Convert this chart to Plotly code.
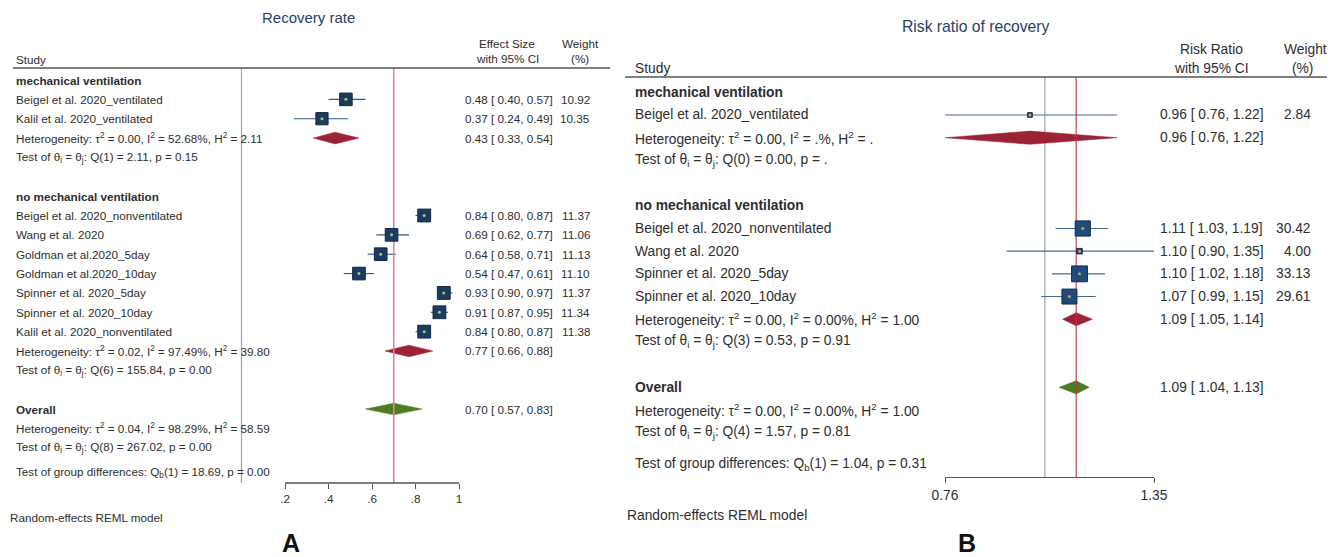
import math
import plotly.graph_objects as go

W, H = 1330, 557
FONT = "Liberation Sans, Arial, Helvetica, sans-serif"
TXT = "#2e2e2e"

# ---------------- Panel A: recovery rate ----------------
A_group_names = ["mechanical ventilation", "no mechanical ventilation"]
A_study = [
    "Beigel et al. 2020_ventilated", "Kalil et al. 2020_ventilated",
    "Beigel et al. 2020_nonventilated", "Wang et al. 2020", "Goldman et al.2020_5day",
    "Goldman et al.2020_10day", "Spinner et al. 2020_5day", "Spinner et al. 2020_10day",
    "Kalil et al. 2020_nonventilated",
]
A_group = [0, 0, 1, 1, 1, 1, 1, 1, 1]
A_es = [0.48, 0.37, 0.84, 0.69, 0.64, 0.54, 0.93, 0.91, 0.84]
A_lo = [0.40, 0.24, 0.80, 0.62, 0.58, 0.47, 0.90, 0.87, 0.80]
A_hi = [0.57, 0.49, 0.87, 0.77, 0.71, 0.61, 0.97, 0.95, 0.87]
A_wt = [10.92, 10.35, 11.37, 11.06, 11.13, 11.10, 11.37, 11.34, 11.38]

A_sub_es = [0.43, 0.77]
A_sub_lo = [0.33, 0.66]
A_sub_hi = [0.54, 0.88]
A_sub_tau2 = [0.00, 0.02]
A_sub_i2 = [52.68, 97.49]
A_sub_h2 = [2.11, 39.80]
A_sub_df = [1, 6]
A_sub_q = [2.11, 155.84]
A_sub_p = [0.15, 0.00]

A_all = [0.70, 0.57, 0.83]          # estimate, lower, upper
A_all_het = [0.04, 98.29, 58.59]    # tau2, I2, H2
A_all_q = [8, 267.02, 0.00]         # df, Q, p
A_qb = [1, 18.69, 0.00]             # df, Qb, p
A_tickvals = [0.2, 0.4, 0.6, 0.8, 1.0]
A_ticktext = [".2", ".4", ".6", ".8", "1"]
A_null = 0.0

# ---------------- Panel B: risk ratio of recovery ----------------
B_group_names = ["mechanical ventilation", "no mechanical ventilation"]
B_study = [
    "Beigel et al. 2020_ventilated", "Beigel et al. 2020_nonventilated",
    "Wang et al. 2020", "Spinner et al. 2020_5day", "Spinner et al. 2020_10day",
]
B_group = [0, 1, 1, 1, 1]
B_es = [0.96, 1.11, 1.10, 1.10, 1.07]
B_lo = [0.76, 1.03, 0.90, 1.02, 0.99]
B_hi = [1.22, 1.19, 1.35, 1.18, 1.15]
B_wt = [2.84, 30.42, 4.00, 33.13, 29.61]

B_sub_es = [0.96, 1.09]
B_sub_lo = [0.76, 1.05]
B_sub_hi = [1.22, 1.14]
B_sub_tau2 = [0.00, 0.00]
B_sub_i2 = [None, 0.00]
B_sub_h2 = [None, 1.00]
B_sub_df = [0, 3]
B_sub_q = [0.00, 0.53]
B_sub_p = [None, 0.91]

B_all = [1.09, 1.04, 1.13]
B_all_het = [0.00, 0.00, 1.00]
B_all_q = [4, 1.57, 0.81]
B_qb = [1, 1.04, 0.31]
B_tickvals = [0.76, 1.35]
B_ticktext = ["0.76", "1.35"]
B_null = 1.0


def fmt(v, suffix=""):
    return "." + suffix if v is None else f"{v:.2f}{suffix}"


def het_text(tau2, i2, h2):
    return (f"Heterogeneity: τ<sup>2</sup> = {fmt(tau2)}, I<sup>2</sup> = {fmt(i2, '%')}, "
            f"H<sup>2</sup> = {fmt(h2)}")


def test_text(df, q, p):
    return f"Test of θ<sub>i</sub> = θ<sub>j</sub>: Q({df}) = {q:.2f}, p = {fmt(p)}"


def ci_text(es, lo, hi):
    return f"{es:.2f} [ {lo:.2f}, {hi:.2f}]"


def layout_rows(groups, n_groups, diff_gap):
    """Assign a row index to every line of the forest table."""
    rows = {"header": [], "study": [], "het": [], "test": []}
    r = 0
    for g in range(n_groups):
        rows["header"].append(r)
        r += 1
        for i in [i for i, gi in enumerate(groups) if gi == g]:
            rows["study"].append((i, r))
            r += 1
        rows["het"].append(r)
        r += 1
        rows["test"].append(r)
        r += 2
    rows["overall"] = r
    rows["overall_het"] = r + 1
    rows["overall_test"] = r + 2
    rows["diff"] = r + 3 + diff_gap
    return rows


fig = go.Figure()
annotations = []
shapes = []


def add_text(text, px, row, yref, anchor="left", size=11.7, color=TXT):
    annotations.append(dict(
        text=text, x=px / W, xref="paper", y=row, yref=yref, xanchor=anchor,
        yanchor="middle", showarrow=False, font=dict(family=FONT, size=size, color=color),
    ))


def add_paper_text(text, px, py, anchor="center", size=11.7, color=TXT):
    annotations.append(dict(
        text=text, x=px / W, xref="paper", y=1 - py / H, yref="paper", xanchor=anchor,
        yanchor="middle", showarrow=False, font=dict(family=FONT, size=size, color=color),
    ))


def diamond(xs, ys, es, lo, hi, row, half):
    xs += [lo, es, hi, es, lo, None]
    ys += [row, row - half, row, row + half, row, None]


def draw_panel(cfg):
    xa, ya = cfg["xaxis"], cfg["yaxis"]
    yref = ya
    fs = cfg["font"]
    rows = layout_rows(cfg["group"], len(cfg["group_names"]), cfg["diff_gap"])
    y_top, y_bot = cfg["yrange"][1], cfg["yrange"][0]

    # no-effect reference line
    fig.add_trace(go.Scatter(x=[cfg["null"], cfg["null"]], y=[y_top, y_bot], mode="lines",
                             line=dict(color="#a9a9a9", width=1.3), xaxis=xa, yaxis=ya,
                             hoverinfo="skip"))

    # confidence intervals of the individual studies
    cx, cy = [], []
    for i, r in rows["study"]:
        cx += [cfg["lo"][i], cfg["hi"][i], None]
        cy += [r, r, None]
    fig.add_trace(go.Scatter(x=cx, y=cy, mode="lines", line=dict(color=cfg["ci_color"], width=1.1),
                             xaxis=xa, yaxis=ya, hoverinfo="skip"))

    # subgroup diamonds
    dx, dy = [], []
    for g, r in enumerate(rows["het"]):
        diamond(dx, dy, cfg["sub_es"][g], cfg["sub_lo"][g], cfg["sub_hi"][g], r, cfg["half"])
    fig.add_trace(go.Scatter(x=dx, y=dy, mode="lines", fill="toself", fillcolor="#9c2235",
                             line=dict(color="#9c2235", width=0.5), xaxis=xa, yaxis=ya,
                             hoverinfo="skip"))
    # overall diamond
    ox, oy = [], []
    diamond(ox, oy, cfg["all"][0], cfg["all"][1], cfg["all"][2], rows["overall"], cfg["half"])
    fig.add_trace(go.Scatter(x=ox, y=oy, mode="lines", fill="toself", fillcolor="#4e7c22",
                             line=dict(color="#4e7c22", width=0.5), xaxis=xa, yaxis=ya,
                             hoverinfo="skip"))

    # line through the overall estimate
    fig.add_trace(go.Scatter(x=[cfg["all"][0], cfg["all"][0]], y=[y_top, y_bot], mode="lines",
                             line=dict(color=cfg["ref_color"], width=cfg["ref_width"]),
                             xaxis=xa, yaxis=ya, hoverinfo="skip"))

    # weighted study squares with centre point
    sx = [cfg["es"][i] for i, _ in rows["study"]]
    sy = [r for _, r in rows["study"]]
    ss = [cfg["k"] * math.sqrt(cfg["wt"][i]) for i, _ in rows["study"]]
    fig.add_trace(go.Scatter(x=sx, y=sy, mode="markers",
                             marker=dict(symbol="square", size=ss, color=cfg["sq_color"], opacity=1,
                                         line=dict(color="#10294a", width=1)),
                             xaxis=xa, yaxis=ya, cliponaxis=False, hoverinfo="skip"))
    fig.add_trace(go.Scatter(x=sx, y=sy, mode="markers",
                             marker=dict(symbol="circle", size=3, color=cfg["dot_color"], opacity=1),
                             xaxis=xa, yaxis=ya, cliponaxis=False, hoverinfo="skip"))

    # table text
    c_study, c_ci, c_wt = cfg["cols"]
    for g, r in enumerate(rows["header"]):
        add_text(f"<b>{cfg['group_names'][g]}</b>", c_study, r, yref, size=fs)
    for i, r in rows["study"]:
        add_text(cfg["study"][i], c_study, r, yref, size=fs)
        add_text(ci_text(cfg["es"][i], cfg["lo"][i], cfg["hi"][i]), c_ci, r, yref, size=fs)
        add_text(f"{cfg['wt'][i]:.2f}", c_wt, r, yref, anchor="right", size=fs)
    for g, r in enumerate(rows["het"]):
        add_text(het_text(cfg["sub_tau2"][g], cfg["sub_i2"][g], cfg["sub_h2"][g]),
                 c_study, r, yref, size=fs)
        add_text(ci_text(cfg["sub_es"][g], cfg["sub_lo"][g], cfg["sub_hi"][g]), c_ci, r, yref, size=fs)
    for g, r in enumerate(rows["test"]):
        add_text(test_text(cfg["sub_df"][g], cfg["sub_q"][g], cfg["sub_p"][g]),
                 c_study, r, yref, size=fs)
    add_text("<b>Overall</b>", c_study, rows["overall"], yref, size=fs)
    add_text(ci_text(*cfg["all"]), c_ci, rows["overall"], yref, size=fs)
    add_text(het_text(*cfg["all_het"]), c_study, rows["overall_het"], yref, size=fs)
    add_text(test_text(*cfg["all_q"]), c_study, rows["overall_test"], yref, size=fs)
    qb = cfg["qb"]
    add_text(f"Test of group differences: Q<sub>b</sub>({qb[0]}) = {qb[1]:.2f}, p = {qb[2]:.2f}",
             c_study, rows["diff"], yref, size=fs)


def domain_px(px0, px1, size):
    return [px0 / size, px1 / size]


# ---- Panel A ----
A_yrange = [20.82, -0.62]
draw_panel(dict(
    xaxis="x", yaxis="y", font=11.7, group=A_group, group_names=A_group_names,
    study=A_study, es=A_es, lo=A_lo, hi=A_hi, wt=A_wt,
    sub_es=A_sub_es, sub_lo=A_sub_lo, sub_hi=A_sub_hi, sub_tau2=A_sub_tau2,
    sub_i2=A_sub_i2, sub_h2=A_sub_h2, sub_df=A_sub_df, sub_q=A_sub_q, sub_p=A_sub_p,
    all=A_all, all_het=A_all_het, all_q=A_all_q, qb=A_qb, null=A_null,
    diff_gap=0.26, yrange=A_yrange, half=0.30, k=3.8,
    ci_color="#34587f", sq_color="#1a3c62", dot_color="#b9c35e",
    ref_color="#db8a9c", ref_width=1.6, cols=(14, 463, 592),
))

# ---- Panel B ----
B_yrange = [16.95, -0.674]
draw_panel(dict(
    xaxis="x2", yaxis="y2", font=13.8, group=B_group, group_names=B_group_names,
    study=B_study, es=B_es, lo=B_lo, hi=B_hi, wt=B_wt,
    sub_es=B_sub_es, sub_lo=B_sub_lo, sub_hi=B_sub_hi, sub_tau2=B_sub_tau2,
    sub_i2=B_sub_i2, sub_h2=B_sub_h2, sub_df=B_sub_df, sub_q=B_sub_q, sub_p=B_sub_p,
    all=B_all, all_het=B_all_het, all_q=B_all_q, qb=B_qb, null=B_null,
    diff_gap=0.42, yrange=B_yrange, half=0.29, k=2.75,
    ci_color="#4a6a8e", sq_color="#1e4c7c", dot_color="#d39a5e",
    ref_color="#b9333d", ref_width=1.1, cols=(633, 1158, 1313),
))

# titles, column headers and footers
add_paper_text("Recovery rate", 308, 18, size=15, color="#243f6b")
add_paper_text("Study", 14, 60, anchor="left")
add_paper_text("Effect Size", 507, 44)
add_paper_text("with 95% CI", 507, 59)
add_paper_text("Weight", 580, 44)
add_paper_text("(%)", 580, 59)
add_paper_text("Random-effects REML model", 8, 517, anchor="left")
add_paper_text("<b>A</b>", 291, 543, size=25, color="#111111")

add_paper_text("Risk ratio of recovery", 975, 26, size=15.7, color="#243f6b")
add_paper_text("Study", 633, 68, anchor="left", size=13.8)
add_paper_text("Risk Ratio", 1211, 49, size=13.8)
add_paper_text("with 95% CI", 1211, 68, size=13.8)
add_paper_text("Weight", 1305, 49, size=13.8)
add_paper_text("(%)", 1302, 68, size=13.8)
add_paper_text("Random-effects REML model", 625, 515, anchor="left", size=13.8)
add_paper_text("<b>B</b>", 967, 543, size=25, color="#111111")

# header rules
shapes.append(dict(type="line", xref="paper", yref="paper", x0=13 / W, x1=610 / W,
                   y0=1 - 68 / H, y1=1 - 68 / H, line=dict(color="#555555", width=1.5)))
shapes.append(dict(type="line", xref="paper", yref="paper", x0=625 / W, x1=1327 / W,
                   y0=1 - 77 / H, y1=1 - 77 / H, line=dict(color="#555555", width=1.5)))
# panel A axis baseline spanning the labelled ticks
shapes.append(dict(type="line", xref="x", yref="y domain", x0=A_tickvals[0], x1=A_tickvals[-1],
                   y0=0, y1=0, line=dict(color="#555555", width=1.3)))

# panel A x-scale: .2 at 285px, 1 at 459px, extended to show the null line
A_px_per_unit = (459 - 285) / (A_tickvals[-1] - A_tickvals[0])
A_xrange = [-0.03, 1.05]
A_dom = [285 + (A_xrange[0] - A_tickvals[0]) * A_px_per_unit,
         459 + (A_xrange[1] - A_tickvals[-1]) * A_px_per_unit]

fig.update_layout(
    width=W, height=H, autosize=False,
    margin=dict(l=0, r=0, t=0, b=0, pad=0, autoexpand=False),
    paper_bgcolor="white", plot_bgcolor="white", showlegend=False, hovermode=False,
    font=dict(family=FONT, color=TXT),
    xaxis=dict(domain=domain_px(A_dom[0], A_dom[1], W), range=A_xrange, anchor="y",
               showline=False, showgrid=False, zeroline=False, ticks="outside", ticklen=5,
               tickwidth=1, tickcolor="#555555", tickvals=A_tickvals, ticktext=A_ticktext,
               automargin=False, tickfont=dict(family=FONT, size=11.7, color=TXT)),
    yaxis=dict(domain=[1 - 483 / H, 1 - 68 / H], range=A_yrange, visible=False, anchor="x",
               automargin=False),
    xaxis2=dict(domain=domain_px(945, 1154, W), type="log",
                range=[math.log10(B_tickvals[0]), math.log10(B_tickvals[-1])], anchor="y2",
                showline=True, linecolor="#555555", linewidth=1.3, showgrid=False,
                zeroline=False, ticks="outside", ticklen=5, tickwidth=1, tickcolor="#555555",
                tickvals=B_tickvals, ticktext=B_ticktext, automargin=False,
                tickfont=dict(family=FONT, size=13.8, color=TXT)),
    yaxis2=dict(domain=[1 - 477 / H, 1 - 77 / H], range=B_yrange, visible=False, anchor="x2",
                automargin=False),
    annotations=annotations, shapes=shapes,
)

fig.write_html("out.html", config={"responsive": False})
